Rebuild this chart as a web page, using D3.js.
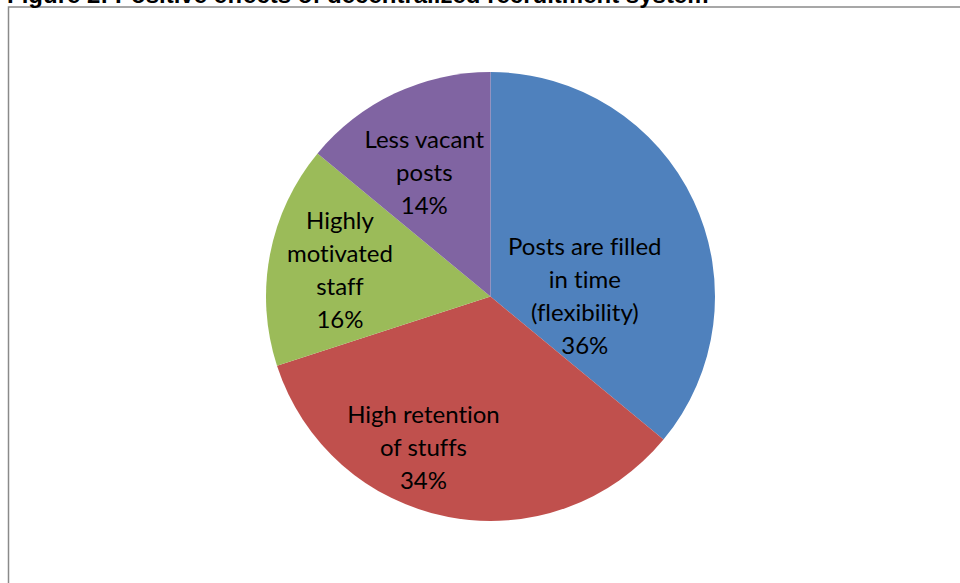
<!DOCTYPE html>
<html>
<head>
<meta charset="utf-8">
<script src="https://cdn.jsdelivr.net/npm/d3@7"></script>
<style>
  html, body { margin: 0; padding: 0; background: #fff; }
  svg { display: block; }
  text { font-variant-ligatures: none; font-feature-settings: "liga" 0; }
</style>
</head>
<body>
<svg id="chart" width="960" height="583"></svg>
<script>
// Survey results: positive effects of a decentralized recruitment system
const categories = [
  "Posts are filled\nin time\n(flexibility)",
  "High retention\nof stuffs",
  "Highly\nmotivated\nstaff",
  "Less vacant\nposts"
];
const shares = [36, 34, 16, 14];
const colors = ["#4F81BD", "#C0504D", "#9BBB59", "#8064A2"];
const title = "Figure 2: Positive effects of decentralized recruitment system";

// Label placement inside each slice: angle (degrees clockwise from 12 o'clock)
// and distance as a fraction of the radius ("best fit" style placement)
const labelAngle = [90.6, 203.8, 279.5, 331.6];
const labelRadius = [0.42, 0.74, 0.68, 0.62];

const svg = d3.select("#chart");
const W = 960, H = 583;

// Page-like frame around the figure
svg.append("rect")
  .attr("x", 8.5).attr("y", 7)
  .attr("width", W + 20).attr("height", H + 20)
  .attr("fill", "#fff")
  .attr("stroke", "#8a8a8a")
  .attr("stroke-width", 1.5);

// Caption above the frame (mostly clipped by the page top)
svg.append("text")
  .attr("x", 7).attr("y", 3)
  .attr("font-family", "Liberation Sans, Arial, sans-serif")
  .attr("font-weight", "bold")
  .attr("font-size", 24)
  .attr("fill", "#000")
  .text(title);

const cx = 490.5, cy = 296.5, R = 224.5;
const g = svg.append("g").attr("transform", `translate(${cx},${cy})`);

const pie = d3.pie().sort(null).value(d => d.value);
const arcs = pie(shares.map((v, i) => ({ value: v, name: categories[i], i })));
const arc = d3.arc().innerRadius(0).outerRadius(R);

g.selectAll("path.slice")
  .data(arcs)
  .join("path")
  .attr("class", "slice")
  .attr("d", arc)
  .attr("fill", (d, i) => colors[i]);

const lineH = 33;
g.selectAll("text.lbl")
  .data(arcs)
  .join("text")
  .attr("class", "lbl")
  .attr("text-anchor", "middle")
  .attr("font-family", "Lato, 'Open Sans', sans-serif")
  .attr("font-size", 24)
  .attr("fill", "#000")
  .each(function (d, i) {
    const a = labelAngle[i] * Math.PI / 180;
    const r = labelRadius[i] * R;
    const x = r * Math.sin(a), y = -r * Math.cos(a);
    const lines = d.data.name.split("\n").concat([d3.format(".0%")(d.value / d3.sum(shares))]);
    const y0 = y - (lines.length - 1) * lineH / 2;
    const t = d3.select(this);
    lines.forEach((ln, k) => {
      t.append("tspan")
        .attr("x", x)
        .attr("y", y0 + k * lineH)
        .attr("dy", "0.3em")
        .text(ln);
    });
  });
</script>
</body>
</html>
